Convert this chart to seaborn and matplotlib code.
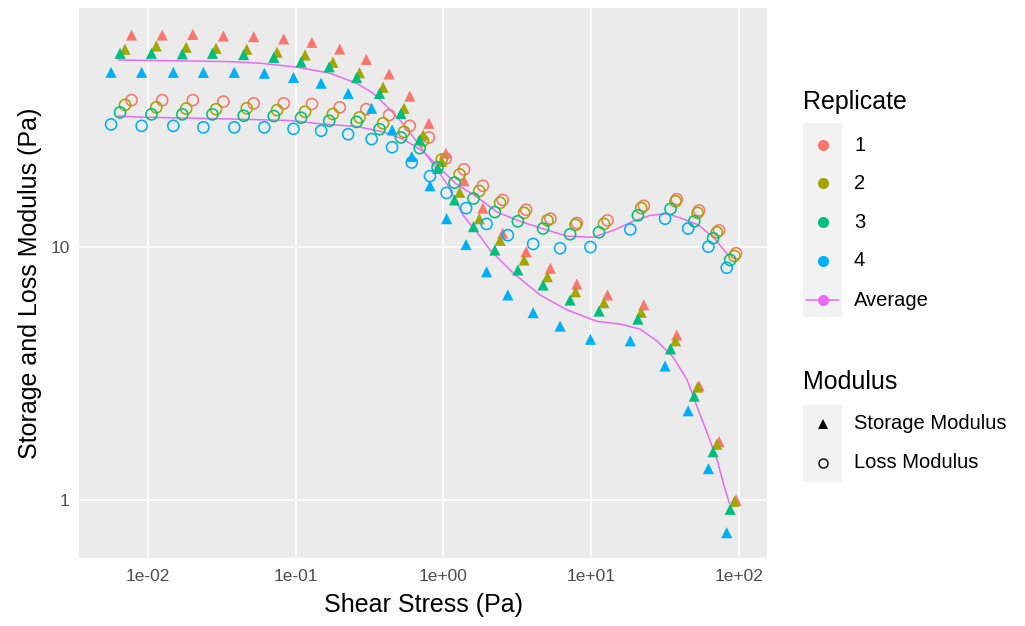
import numpy as np
import pandas as pd
import matplotlib
matplotlib.use("Agg")
import matplotlib.pyplot as plt
from matplotlib.lines import Line2D
from matplotlib.patches import Rectangle
from matplotlib.ticker import FixedLocator, FixedFormatter, NullLocator
import seaborn as sns

# ---------------- data ----------------
replicates = ["1", "2", "3", "4"]
modulus_types = ["Storage Modulus", "Loss Modulus"]

rep1_stress = [0.00777, 0.01253, 0.0202, 0.0325, 0.0521, 0.0832, 0.129, 0.199, 0.301, 0.430, 0.593, 0.798, 1.04,
               1.38, 1.85, 2.52, 3.63, 5.30, 8.00, 12.9, 22.7, 37.9, 53.7, 73.3, 95.5]
rep1_storage = [68.5, 68.5, 68.9, 67.9, 67.5, 66.1, 64.1, 60.3, 54.9, 48.1, 39.3, 30.7, 23.4, 18.2, 14.2, 11.3,
                9.56, 8.22, 7.12, 6.45, 5.89, 4.48, 2.82, 1.70, 1.0]
rep1_loss = [37.9, 37.9, 37.9, 37.4, 36.8, 36.8, 36.6, 35.5, 34.9, 33.1, 30.0, 27.0, 22.3, 20.2, 17.4, 15.3, 14.0,
             12.9, 12.4, 12.7, 14.5, 15.4, 13.9, 11.6, 9.42]

rep2_stress = [0.00702, 0.01143, 0.0182, 0.0290, 0.0468, 0.0750, 0.116, 0.179, 0.271, 0.391, 0.542, 0.729, 0.975,
               1.29, 1.75, 2.42, 3.52, 5.06, 7.84, 12.2, 21.8, 37.2, 52.5, 70.8, 93.1]
rep2_storage = [60.2, 62.0, 61.3, 60.7, 60.2, 58.6, 57.1, 53.5, 48.6, 42.6, 35.2, 27.6, 21.7, 16.4, 12.9, 10.6,
                8.86, 7.61, 6.64, 6.01, 5.51, 4.25, 2.79, 1.66, 0.988]
rep2_loss = [36.3, 35.5, 35.1, 34.9, 35.2, 34.6, 34.1, 33.4, 32.4, 30.7, 28.4, 26.2, 22.1, 19.3, 16.6, 14.9, 13.6,
             12.7, 12.2, 12.3, 14.2, 15.1, 13.6, 11.4, 9.19]

rep3_stress = [0.00650, 0.0106, 0.01715, 0.0274, 0.0446, 0.0713, 0.109, 0.169, 0.259, 0.370, 0.517, 0.692, 0.914,
               1.19, 1.60, 2.23, 3.19, 4.73, 7.20, 11.3, 20.7, 34.4, 49.8, 66.8, 87.1]
rep3_storage = [58.0, 58.0, 57.7, 58.0, 57.3, 55.9, 53.6, 51.3, 46.5, 40.3, 33.6, 26.4, 20.4, 15.3, 12.0, 9.70,
                8.09, 7.06, 6.16, 5.57, 5.18, 3.95, 2.57, 1.55, 0.919]
rep3_loss = [33.9, 33.3, 33.3, 33.3, 32.9, 32.8, 32.3, 31.4, 31.1, 29.1, 27.0, 24.5, 20.6, 17.9, 15.5, 13.7, 12.6,
             11.8, 11.2, 11.4, 13.3, 14.1, 12.6, 10.8, 8.86]

rep4_stress = [0.00565, 0.00910, 0.0149, 0.0238, 0.0385, 0.0615, 0.0969, 0.149, 0.227, 0.327, 0.450, 0.611, 0.812,
               1.052, 1.425, 1.96, 2.73, 4.05, 6.16, 9.89, 18.4, 31.6, 45.3, 62.1, 82.6]
rep4_storage = [48.8, 48.8, 48.8, 48.8, 48.8, 48.4, 46.6, 44.2, 40.3, 35.2, 28.9, 22.7, 17.4, 12.9, 10.2, 7.96,
                6.45, 5.49, 4.86, 4.31, 4.25, 3.38, 2.25, 1.33, 0.743]
rep4_loss = [30.4, 30.0, 30.0, 29.6, 29.6, 29.6, 29.2, 28.7, 27.8, 26.6, 24.7, 21.5, 19.0, 16.3, 14.2, 12.3, 11.1,
             10.25, 9.86, 9.97, 11.7, 12.9, 11.8, 10.0, 8.26]

avg_storage_stress = [0.00630, 0.0360, 0.0576, 0.102, 0.171, 0.259, 0.334, 0.416, 0.509, 0.624, 0.813, 1.06, 1.36,
                      1.77, 2.07, 2.96, 4.51, 6.87, 11.0, 15.7, 21.4, 27.9, 35.8, 44.6, 52.1, 60.9, 71.2, 78.2, 85.9]
avg_storage = [54.6, 53.8, 53.0, 51.2, 48.4, 44.2, 40.4, 35.7, 31.6, 27.2, 22.0, 17.7, 13.3, 11.0, 9.70, 7.88, 6.45,
               5.63, 5.07, 4.95, 4.73, 4.24, 3.67, 2.98, 2.33, 1.84, 1.44, 1.17, 0.971]
avg_loss_stress = [0.00630, 0.00847, 0.0390, 0.0918, 0.153, 0.261, 0.391, 0.533, 0.729, 0.950, 1.22, 1.69, 2.31,
                   3.30, 4.88, 6.87, 10.3, 14.1, 19.2, 25.1, 32.7, 40.0, 53.0, 67.9, 84.5]
avg_loss = [32.8, 32.5, 31.9, 31.5, 30.5, 29.8, 28.4, 26.6, 23.8, 20.4, 17.7, 15.7, 13.7, 12.6, 11.7, 11.0, 10.9,
            11.6, 12.6, 13.3, 13.5, 13.0, 12.2, 10.8, 9.27]

x_tick_values = [0.01, 0.1, 1, 10, 100]
x_tick_labels = ["1e-02", "1e-01", "1e+00", "1e+01", "1e+02"]
y_tick_values = [1, 10]
y_tick_labels = ["1", "10"]

colors = {"1": "#F8766D", "2": "#A3A500", "3": "#00BF7D", "4": "#00B0F6", "Average": "#E76BF3"}

# ---------------- long table ----------------
rep_data = {
    "1": (rep1_stress, rep1_storage, rep1_loss),
    "2": (rep2_stress, rep2_storage, rep2_loss),
    "3": (rep3_stress, rep3_storage, rep3_loss),
    "4": (rep4_stress, rep4_storage, rep4_loss),
}
rows = []
for rep in replicates:
    st, sto, los = rep_data[rep]
    for x, g1, g2 in zip(st, sto, los):
        rows.append((x, g1, rep, "Storage Modulus"))
        rows.append((x, g2, rep, "Loss Modulus"))
df = pd.DataFrame(rows, columns=["Stress", "Modulus", "Replicate", "Type"])

# ---------------- figure ----------------
sns.set_theme(style="darkgrid")
plt.rcParams["font.family"] = ["Liberation Sans", "DejaVu Sans"]

W, H = 1025, 626
fig = plt.figure(figsize=(W / 100, H / 100), dpi=100)
fig.patch.set_facecolor("white")
L, R, T, B = 79.3, 766.7, 8.0, 558.3
ax = fig.add_axes([L / W, 1 - B / H, (R - L) / W, (B - T) / H])
ax.set_facecolor("#EBEBEB")
ax.set_xscale("log")
ax.set_yscale("log")

# average lines
sns.lineplot(x=avg_storage_stress, y=avg_storage, ax=ax, color=colors["Average"], lw=1.1,
             sort=False, estimator=None, zorder=3)
sns.lineplot(x=avg_loss_stress, y=avg_loss, ax=ax, color=colors["Average"], lw=1.1,
             sort=False, estimator=None, zorder=3)

# points
sns.scatterplot(data=df, x="Stress", y="Modulus", hue="Replicate", style="Type",
                markers={"Storage Modulus": "^", "Loss Modulus": "o"},
                palette={k: colors[k] for k in replicates}, s=64, linewidth=0,
                legend=False, ax=ax, zorder=4)
coll = ax.collections[-1]
fc = np.array(coll.get_facecolors())
is_loss = (df["Type"] == "Loss Modulus").to_numpy()
new_fc = fc.copy()
new_fc[is_loss, 3] = 0.0
ec = fc.copy()
ec[~is_loss, 3] = 0.0
coll.set_facecolors(new_fc)
coll.set_edgecolors(ec)
coll.set_linewidths(np.where(is_loss, 1.15, 0.0))

ax.set_xlim(10 ** -2.4628, 10 ** 2.1874)
ax.set_ylim(10 ** -0.2302, 10 ** 1.9424)

ax.xaxis.set_major_locator(FixedLocator(x_tick_values))
ax.xaxis.set_major_formatter(FixedFormatter(x_tick_labels))
ax.yaxis.set_major_locator(FixedLocator(y_tick_values))
ax.yaxis.set_major_formatter(FixedFormatter(y_tick_labels))
ax.xaxis.set_minor_locator(NullLocator())
ax.yaxis.set_minor_locator(NullLocator())
ax.grid(True, which="major", color="white", lw=1.2)
ax.set_axisbelow(True)
for s in ax.spines.values():
    s.set_visible(False)
ax.tick_params(axis="both", which="major", length=4, width=1.0, color="#333333",
               labelcolor="#4D4D4D", labelsize=12.5, pad=3)
ax.tick_params(axis="x", pad=4)

ax.set_xlabel("Shear Stress (Pa)", fontsize=18, color="black", labelpad=6)
ax.set_ylabel("Storage and Loss Modulus (Pa)", fontsize=18, color="black", labelpad=6)

# ---------------- legends (drawn by hand, ggplot style) ----------------
def fx(px):
    return px / W

def fy(py):
    return 1 - py / H

key_x0, key_w = 803.3, 39.0
key_cx = key_x0 + key_w / 2
label_x = 854

fig.text(fx(803), fy(101.7), "Replicate", fontsize=18, ha="left", va="center", color="black")
fig.add_artist(Rectangle((fx(key_x0), fy(317.3)), key_w / W, 194 / H, transform=fig.transFigure,
                         facecolor="#F2F2F2", edgecolor="none"))
rep_keys_y = [145, 183.5, 222, 261, 300]
legend_items = replicates + ["Average"]
for lab, ky in zip(legend_items, rep_keys_y):
    if lab == "Average":
        fig.add_artist(Line2D([fx(key_x0 + 3), fx(key_x0 + key_w - 3)], [fy(ky), fy(ky)],
                              transform=fig.transFigure, color=colors[lab], lw=1.1))
    fig.add_artist(Line2D([fx(key_cx)], [fy(ky)], transform=fig.transFigure, marker="o", ms=8,
                          mfc=colors[lab], mec=colors[lab], mew=0, ls="none"))
    fig.text(fx(label_x), fy(ky), lab, fontsize=14.5, ha="left", va="center", color="black")

fig.text(fx(803), fy(381.7), "Modulus", fontsize=18, ha="left", va="center", color="black")
fig.add_artist(Rectangle((fx(key_x0), fy(481.7)), key_w / W, 77 / H, transform=fig.transFigure,
                         facecolor="#F2F2F2", edgecolor="none"))
mod_keys_y = [423.5, 462.5]
for lab, ky in zip(modulus_types, mod_keys_y):
    if lab == "Storage Modulus":
        fig.add_artist(Line2D([fx(key_cx)], [fy(ky)], transform=fig.transFigure, marker="^", ms=7.5,
                              mfc="black", mec="black", mew=0, ls="none"))
    else:
        fig.add_artist(Line2D([fx(key_cx)], [fy(ky)], transform=fig.transFigure, marker="o", ms=6.5,
                              mfc="none", mec="black", mew=1.0, ls="none"))
    fig.text(fx(label_x), fy(ky), lab, fontsize=14.5, ha="left", va="center", color="black")

fig.savefig("out.png", dpi=100, facecolor="white")
